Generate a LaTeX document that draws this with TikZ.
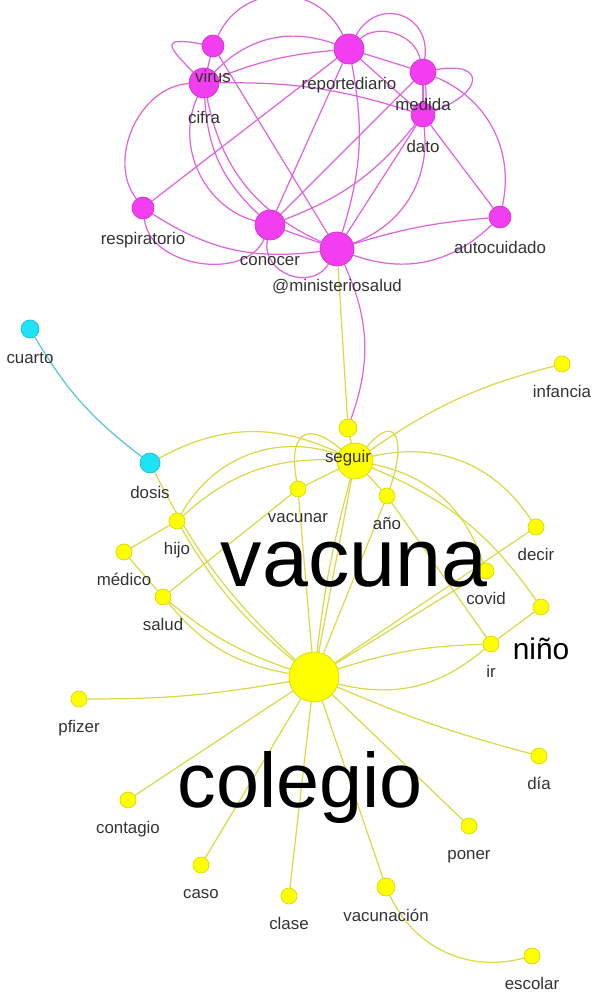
\documentclass[tikz,border=0pt]{standalone}
\usepackage{fontspec}
\setsansfont{Liberation Sans}
\usetikzlibrary{positioning, backgrounds}
\definecolor{cMag}{HTML}{F23EF0}
\definecolor{cMagLine}{HTML}{DD66DD}
\definecolor{cYel}{HTML}{FFFF00}
\definecolor{cYelLine}{HTML}{D9D94A}
\definecolor{cCyan}{HTML}{1EE2F6}
\definecolor{cCyanLine}{HTML}{5CC4DA}
\definecolor{cLabel}{HTML}{333333}
\tikzset{
  term/.style={circle, draw=#1!85!black, fill=#1, line width=0.4pt, inner sep=0pt},
  mterm/.style={term=cMag, minimum size=#1},
  yterm/.style={term=cYel, minimum size=#1},
  cterm/.style={term=cCyan, minimum size=#1},
  yterm/.default=0.32cm,
  medge/.style={draw=cMagLine, line width=0.7pt},
  yedge/.style={draw=cYelLine, line width=0.7pt},
  cedge/.style={draw=cCyanLine, line width=0.7pt},
  lbl/.style={font=\sffamily\fontsize{9.6}{11}\selectfont, text=cLabel,
    inner sep=0pt, text height=7pt, text depth=2pt},
  biglbl/.style={font=\sffamily\fontsize{#1}{#1}\selectfont, text=black,
    inner sep=0pt, anchor=base},
}

\begin{document}
\begin{tikzpicture}[x=0.02cm, y=0.02cm, node distance=7pt]
\useasboundingbox (0,0) rectangle (602,995);

% ---- magenta cluster ----
\node[mterm=0.44cm] (virus) at (213,949) {};
\node[mterm=0.6cm] (cifra) at (204,912) {};
\node[mterm=0.6cm] (reporte) at (349,946) {};
\node[mterm=0.52cm] (medida) at (423,923) {};
\node[mterm=0.48cm] (dato) at (423,880) {};
\node[mterm=0.44cm] (respir) at (143,787) {};
\node[mterm=0.6cm] (conocer) at (270,770) {};
\node[mterm=0.68cm] (minsalud) at (337,746) {};
\node[mterm=0.44cm] (autocuid) at (500,778) {};

% ---- cyan pair ----
\node[cterm=0.36cm] (cuarto) at (30,666) {};
\node[cterm=0.4cm] (dosis) at (150,532) {};

% ---- yellow cluster ----
\node[yterm=0.36cm] (seguir) at (348,567) {};
\node[yterm=0.72cm] (vacuna) at (355,534) {};
\node[yterm] (infancia) at (562,631) {};
\node[yterm] (vacunar) at (298,506) {};
\node[yterm] (anio) at (387,499) {};
\node[yterm] (hijo) at (177,474) {};
\node[yterm] (medico) at (124,443) {};
\node[yterm] (decir) at (536,468) {};
\node[yterm] (covid) at (486,424) {};
\node[yterm] (salud) at (163,398) {};
\node[yterm] (nino) at (541,388) {};
\node[yterm] (ir) at (491,351) {};
\node[yterm=1.0cm] (colegio) at (314,318) {};
\node[yterm] (pfizer) at (79,296) {};
\node[yterm] (dia) at (539,239) {};
\node[yterm] (contagio) at (128,195) {};
\node[yterm] (poner) at (469,169) {};
\node[yterm] (caso) at (201,130) {};
\node[yterm] (clase) at (289,99) {};
\node[yterm=0.36cm] (vacunacion) at (386,108) {};
\node[yterm] (escolar) at (532,39) {};

% ---- labels ----
\node[lbl, below=of virus] (virus-l) {virus};
\node[lbl, below=of cifra] (cifra-l) {cifra};
\node[lbl, below=of reporte] (reporte-l) {reportediario};
\node[lbl, below=of medida] (medida-l) {medida};
\node[lbl, below=of dato] (dato-l) {dato};
\node[lbl, below=of respir] (respir-l) {respiratorio};
\node[lbl, below=of conocer] (conocer-l) {conocer};
\node[lbl, below=of minsalud] (minsalud-l) {@ministeriosalud};
\node[lbl, below=of autocuid] (autocuid-l) {autocuidado};
\node[lbl, below=of cuarto] (cuarto-l) {cuarto};
\node[lbl, below=of dosis] (dosis-l) {dosis};
\node[lbl, below=of seguir] (seguir-l) {seguir};
\node[lbl, below=of infancia] (infancia-l) {infancia};
\node[lbl, below=of vacunar] (vacunar-l) {vacunar};
\node[lbl, below=of anio] (anio-l) {año};
\node[lbl, below=of hijo] (hijo-l) {hijo};
\node[lbl, below=of medico] (medico-l) {médico};
\node[lbl, below=of decir] (decir-l) {decir};
\node[lbl, below=of covid] (covid-l) {covid};
\node[lbl, below=of salud] (salud-l) {salud};
\node[lbl, below=of ir] (ir-l) {ir};
\node[lbl, below=of pfizer] (pfizer-l) {pfizer};
\node[lbl, below=of dia] (dia-l) {día};
\node[lbl, below=of contagio] (contagio-l) {contagio};
\node[lbl, below=of poner] (poner-l) {poner};
\node[lbl, below=of caso] (caso-l) {caso};
\node[lbl, below=of clase] (clase-l) {clase};
\node[lbl, below=of vacunacion] (vacunacion-l) {vacunación};
\node[lbl, below=of escolar] (escolar-l) {escolar};
\node[biglbl=17] (nino-l) at (541,335) {niño};
\node[biglbl=47] (vacuna-l) at (354,408) {vacuna};
\node[biglbl=44] (colegio-l) at (300,187) {colegio};

% ---- edges ----
\begin{pgfonlayer}{background}
  % magenta
  \draw[medge] (virus) to[out=170,in=135,looseness=3.5] (cifra);
  \draw[medge] (virus) -- (cifra);
  \draw[medge] (virus) to[bend left=65,looseness=1.2] (reporte);
  \draw[medge] (virus) -- (minsalud);
  \draw[medge] (cifra) to[bend left=33] (reporte);
  \draw[medge] (cifra) to[bend left=8] (reporte);
  \draw[medge] (cifra) to[bend left=9] (dato);
  \draw[medge] (cifra) to[bend right=62] (respir);
  \draw[medge] (cifra) to[bend right=50] (conocer);
  \draw[medge] (cifra) to[bend right=22] (conocer);
  \draw[medge] (cifra) to[bend right=27] (minsalud);
  \draw[medge] (reporte) -- (respir);
  \draw[medge] (reporte) -- (conocer);
  \draw[medge] (reporte) to[bend left=14] (minsalud);
  \draw[medge] (reporte) to[bend left=80,looseness=1.6] (medida);
  \draw[medge] (reporte) to[bend left=60] (medida);
  \draw[medge] (reporte) -- (medida);
  \draw[medge] (reporte) -- (dato);
  \draw[medge] (medida) -- (dato);
  \draw[medge] (medida) to[bend left=10] (dato);
  \draw[medge] (medida) to[out=10,in=20,looseness=3.2] (dato);
  \draw[medge] (medida) -- (conocer);
  \draw[medge] (medida) to[bend left=40] (autocuid);
  \draw[medge] (dato) to[bend left=15] (conocer);
  \draw[medge] (dato) -- (minsalud);
  \draw[medge] (dato) to[bend left=38] (minsalud);
  \draw[medge] (dato) -- (autocuid);
  \draw[medge] (respir) to[bend right=75] (conocer);
  \draw[medge] (respir) to[bend right=20] (minsalud);
  \draw[medge] (conocer) to[bend right=80,looseness=1.3] (minsalud);
  \draw[medge] (conocer) -- (minsalud);
  \draw[medge] (minsalud) to[bend left=6] (autocuid);
  \draw[medge] (minsalud) to[bend right=32] (autocuid);
  \draw[medge] (minsalud) to[bend left=22] (seguir);
  % cyan
  \draw[cedge] (cuarto) to[bend right=11] (dosis);
  % yellow
  \draw[yedge] (minsalud) -- (seguir);
  \draw[yedge] (seguir) -- (vacuna);
  \draw[yedge] (dosis) to[bend left=27] (vacuna);
  \draw[yedge] (vacuna) to[out=140,in=100,looseness=2.2] (vacunar);
  \draw[yedge] (vacuna) -- (vacunar);
  \draw[yedge] (vacunar) -- (colegio);
  \draw[yedge] (vacuna) to[out=50,in=70,looseness=2.6] (anio);
  \draw[yedge] (vacuna) -- (anio);
  \draw[yedge] (anio) -- (colegio);
  \draw[yedge] (anio) -- (ir);
  \draw[yedge] (vacuna) -- (colegio);
  \draw[yedge] (vacuna) to[bend right=4] (colegio);
  \draw[yedge] (vacuna) to[bend left=10] (infancia);
  \draw[yedge] (vacuna) to[bend right=40] (hijo);
  \draw[yedge] (vacuna) to[bend right=22] (hijo);
  \draw[yedge] (vacuna) to[bend left=35] (decir);
  \draw[yedge] (vacuna) to[bend left=16] (nino);
  \draw[yedge] (vacuna) to[bend left=30] (covid);
  \draw[yedge] (colegio) -- (covid);
  \draw[yedge] (colegio) -- (decir);
  \draw[yedge] (colegio) to[bend left=8] (ir);
  \draw[yedge] (colegio) to[bend right=27] (ir);
  \draw[yedge] (ir) -- (nino);
  \draw[yedge] (dosis) to[bend right=10] (colegio);
  \draw[yedge] (hijo) to[bend right=10] (colegio);
  \draw[yedge] (medico) -- (hijo);
  \draw[yedge] (medico) -- (salud);
  \draw[yedge] (salud) -- (vacunar);
  \draw[yedge] (salud) to[bend right=10] (colegio);
  \draw[yedge] (salud) to[bend right=20] (colegio);
  \draw[yedge] (pfizer) to[bend right=5] (colegio);
  \draw[yedge] (colegio) to[bend right=4] (dia);
  \draw[yedge] (colegio) -- (contagio);
  \draw[yedge] (colegio) -- (caso);
  \draw[yedge] (colegio) -- (clase);
  \draw[yedge] (colegio) -- (vacunacion);
  \draw[yedge] (colegio) -- (poner);
  \draw[yedge] (vacunacion) to[bend right=40] (escolar);
\end{pgfonlayer}

\end{tikzpicture}
\end{document}
